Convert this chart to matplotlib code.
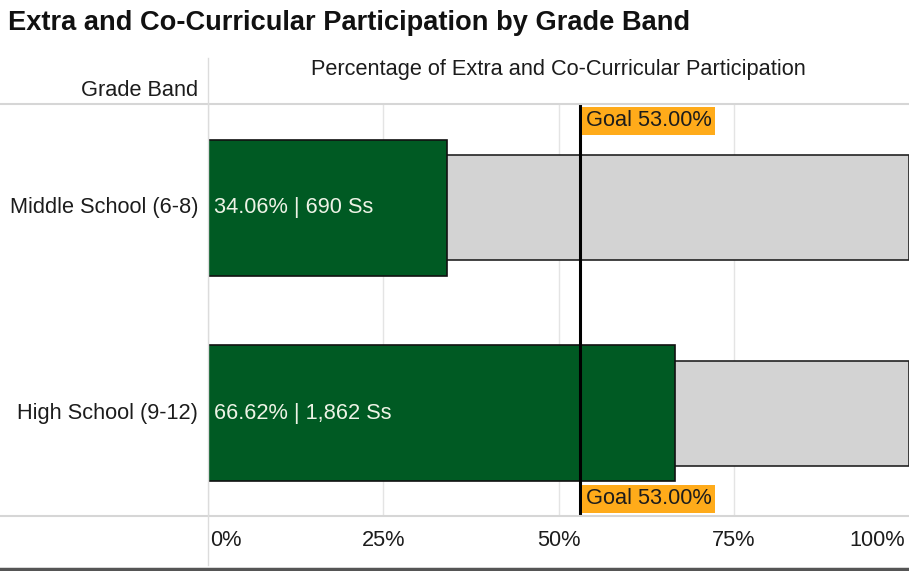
import matplotlib.pyplot as plt
import matplotlib.transforms as mtransforms

plt.rcParams['font.family'] = ['Liberation Sans', 'DejaVu Sans']

TITLE = "Extra and Co-Curricular Participation by Grade Band"
HEADER = "Percentage of Extra and Co-Curricular Participation"

bands = ["Middle School (6-8)", "High School (9-12)"]
pct = [34.06, 66.62]
students = [690, 1862]
goal = 53.0
ticks = [0, 25, 50, 75, 100]

GREEN = "#005a23"
GRAY = "#d3d3d3"
ORANGE = "#ffab1a"
GRID = "#e4e4e4"
TXT = "#1c1c1c"
FS = 15.7

W, H = 909, 571
fig = plt.figure(figsize=(W / 100, H / 100), dpi=100)

# plot area in pixel coords
x0, x1 = 208, 909
y_top, y_bot = 104, 516
ax = fig.add_axes([x0 / W, 1 - y_bot / H, (x1 - x0) / W, (y_bot - y_top) / H])
ax.set_xlim(0, 100)
ax.set_ylim(1.5, -0.505)
for s in ax.spines.values():
    s.set_visible(False)
ax.set_xticks([])
ax.set_yticks([])

for t in ticks[:-1]:
    ax.axvline(t, color=GRID, lw=1, zorder=0)

ypos = list(range(len(bands)))
ax.barh(ypos, [100] * len(bands), height=0.51, color=GRAY, edgecolor="#222222", lw=1.2, zorder=1)
ax.barh(ypos, pct, height=0.66, color=GREEN, edgecolor="#111111", lw=1.2, zorder=2)

for y, p, n in zip(ypos, pct, students):
    ax.text(0.9, y, f"{p:.2f}% | {n:,} Ss", color="#eef3e6", fontsize=FS,
            va="center", ha="left", zorder=4)

ax.axvline(goal, color="black", lw=2.2, zorder=3)

# goal tags at the top and bottom of the reference line
trans = mtransforms.blended_transform_factory(ax.transData, ax.transAxes)
box = dict(facecolor=ORANGE, edgecolor="none", pad=2.5)
ax.text(goal + 0.9, 0.985, f"Goal {goal:.2f}%", transform=trans, ha="left", va="top",
        fontsize=FS, color=TXT, bbox=box, zorder=5)
ax.text(goal + 0.9, 0.016, f"Goal {goal:.2f}%", transform=trans, ha="left", va="bottom",
        fontsize=FS, color=TXT, bbox=box, zorder=5)

# category labels left of the plot
for y, b in zip(ypos, bands):
    ax.text(-1.4, y, b, ha="right", va="center", fontsize=FS, color=TXT, clip_on=False)

# x tick labels under the plot
for t in ticks:
    ha = "left" if t == 0 else ("right" if t == 100 else "center")
    xt = t + 0.3 if t == 0 else (t - 0.5 if t == 100 else t)
    ax.text(xt, 1.62, f"{t}%", ha=ha, va="center", fontsize=FS, color=TXT, clip_on=False)

# table rules and divider
fig.add_artist(plt.Line2D([0, 1], [1 - y_top / H] * 2, color="#d6d6d6", lw=1.5))
fig.add_artist(plt.Line2D([0, 1], [1 - y_bot / H] * 2, color="#d6d6d6", lw=1.5))
fig.add_artist(plt.Line2D([x0 / W] * 2, [1 - 58 / H, 1 - 565 / H], color="#dcdcdc", lw=1))
fig.add_artist(plt.Line2D([0, 1], [1 - 569 / H] * 2, color="#555555", lw=2.5))

fig.text(8 / W, 1 - 23 / H, TITLE, fontsize=19.6, fontweight="bold", ha="left", va="center", color="#111111")
fig.text((x0 + x1) / 2 / W, 1 - 70 / H, HEADER, fontsize=FS, ha="center", va="center", color=TXT)
fig.text(198 / W, 1 - 91 / H, "Grade Band", fontsize=FS, ha="right", va="center", color=TXT)

fig.savefig("out.png", dpi=100, facecolor="white")
